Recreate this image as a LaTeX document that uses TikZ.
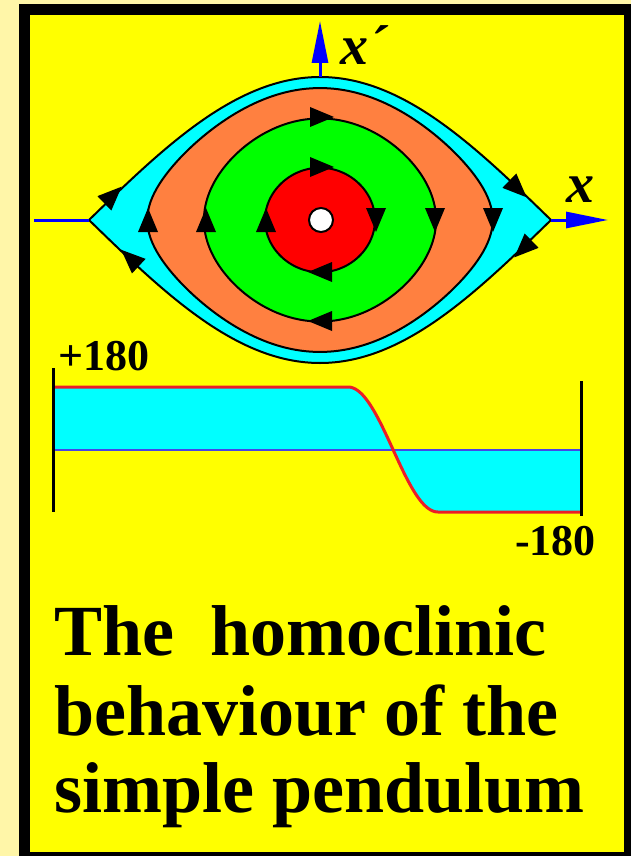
\documentclass[tikz,border=0pt]{standalone}
\usepackage{fontspec}
\setmainfont{Liberation Serif}
\usetikzlibrary{arrows.meta}
\definecolor{paleyellow}{RGB}{255,246,168}
\definecolor{panelyellow}{RGB}{255,255,0}
\definecolor{cyanfill}{RGB}{0,255,255}
\definecolor{orangefill}{RGB}{255,128,64}
\definecolor{greenfill}{RGB}{0,255,0}
\definecolor{redfill}{RGB}{255,0,0}
\definecolor{axisblue}{RGB}{0,0,255}
\definecolor{levelblue}{RGB}{70,70,230}
\definecolor{curvered}{RGB}{235,30,40}
\tikzset{
  flowtip/.pic={\fill[black] (12pt,0) -- (-12pt,10pt) -- (-12pt,-10pt) -- cycle;},
  orbit/.style={draw=black,line width=2pt},
  axis/.style={axisblue,line width=3pt},
  axistip/.style={axis,-{Triangle[length=42pt,width=16pt]}},
  title/.style={font=\fontsize{72}{72}\selectfont\bfseries,inner sep=0pt,anchor=base west},
  angle/.style={font=\fontsize{44}{44}\selectfont\bfseries,inner sep=0pt},
  axislabel/.style={font=\fontsize{56}{56}\selectfont\bfseries\itshape,inner sep=0pt}
}
% closed pendulum orbit, #1 = sin(amplitude/2)
\newcommand{\orbitpath}[1]{plot[domain=0:360,samples=181] ({320+2.5656*asin(#1*sin(\x))},{220-143*#1*cos(\x)}) -- cycle}
\begin{document}
\begin{tikzpicture}[x=1pt,y=-1pt]
  \clip (0,0) rectangle (631,856);
  \useasboundingbox (0,0) rectangle (631,856);
  \fill[paleyellow] (0,0) rectangle (631,856);
  \fill[black] (19,4) rectangle (660,880);
  \fill[panelyellow] (30,15) rectangle (624,852);

  % phase plane
  \coordinate (saddleL) at (89,220);
  \coordinate (saddleR) at (551,220);
  \coordinate (peak) at (320,77);
  \coordinate (xtail) at (34,220);
  \coordinate (xtip) at (608,220);
  \coordinate (xptip) at (320,21);
  \filldraw[fill=cyanfill,orbit] plot[domain=-180:180,samples=121] ({320+1.28333*\x},{220-143*cos(\x/2)})
    -- plot[domain=180:-180,samples=121] ({320+1.28333*\x},{220+143*cos(\x/2)}) -- cycle;
  \filldraw[fill=orangefill,orbit] \orbitpath{0.9227};
  \filldraw[fill=greenfill,orbit] \orbitpath{0.71};
  \filldraw[fill=redfill,orbit] \orbitpath{0.3654};
  \filldraw[fill=white,orbit] (321,220) circle (12);
  \draw[axis] (xtail) -- (saddleL);
  \draw[axistip] (saddleR) -- (xtip);
  \draw[axistip] (peak) -- (xptip);
  \node[axislabel] (xplabel) at (364,45) {x´};
  \node[axislabel] (xlabel) at (580,190) {x};
  \foreach \x/\y/\a in {322/117/0,322/167/0,376/220/-90,435/220/-90,493/220/-90,
      320/272/180,320/321/180,266/220/90,206/220/90,148/220/90,
      113/195/44,130/258/137,518/189/-44,523/249/-136}
    \pic[rotate=\a] at (\x,\y) {flowtip};

  % time plot
  \fill[cyanfill] (55,387) -- (348,387) -- plot[domain=-45:45,samples=61] ({393+\x},{449.5+62.5*sin(2*\x)})
    -- (438,512) -- (580,512) -- (580,449) -- (55,449) -- cycle;
  \draw[levelblue,line width=2pt] (55,450) -- (580,450);
  \draw[curvered,line width=3pt] (55,387) -- (348,387) -- plot[domain=-45:45,samples=61] ({393+\x},{449.5+62.5*sin(2*\x)})
    -- (438,512) -- (580,512);
  \draw[line width=3pt] (53,368) -- (53,512);
  \draw[line width=3pt] (581,381) -- (581,516);
  \node[angle,anchor=base west] (plus) at (58,370) {+180};
  \node[angle,anchor=base east] (minus) at (596,555) {-180};

  \node[title] (line1) at (54,655) {The\ \ homoclinic};
  \node[title] (line2) at (54,735) {behaviour of the};
  \node[title] (line3) at (54,812) {simple pendulum};
\end{tikzpicture}
\end{document}
